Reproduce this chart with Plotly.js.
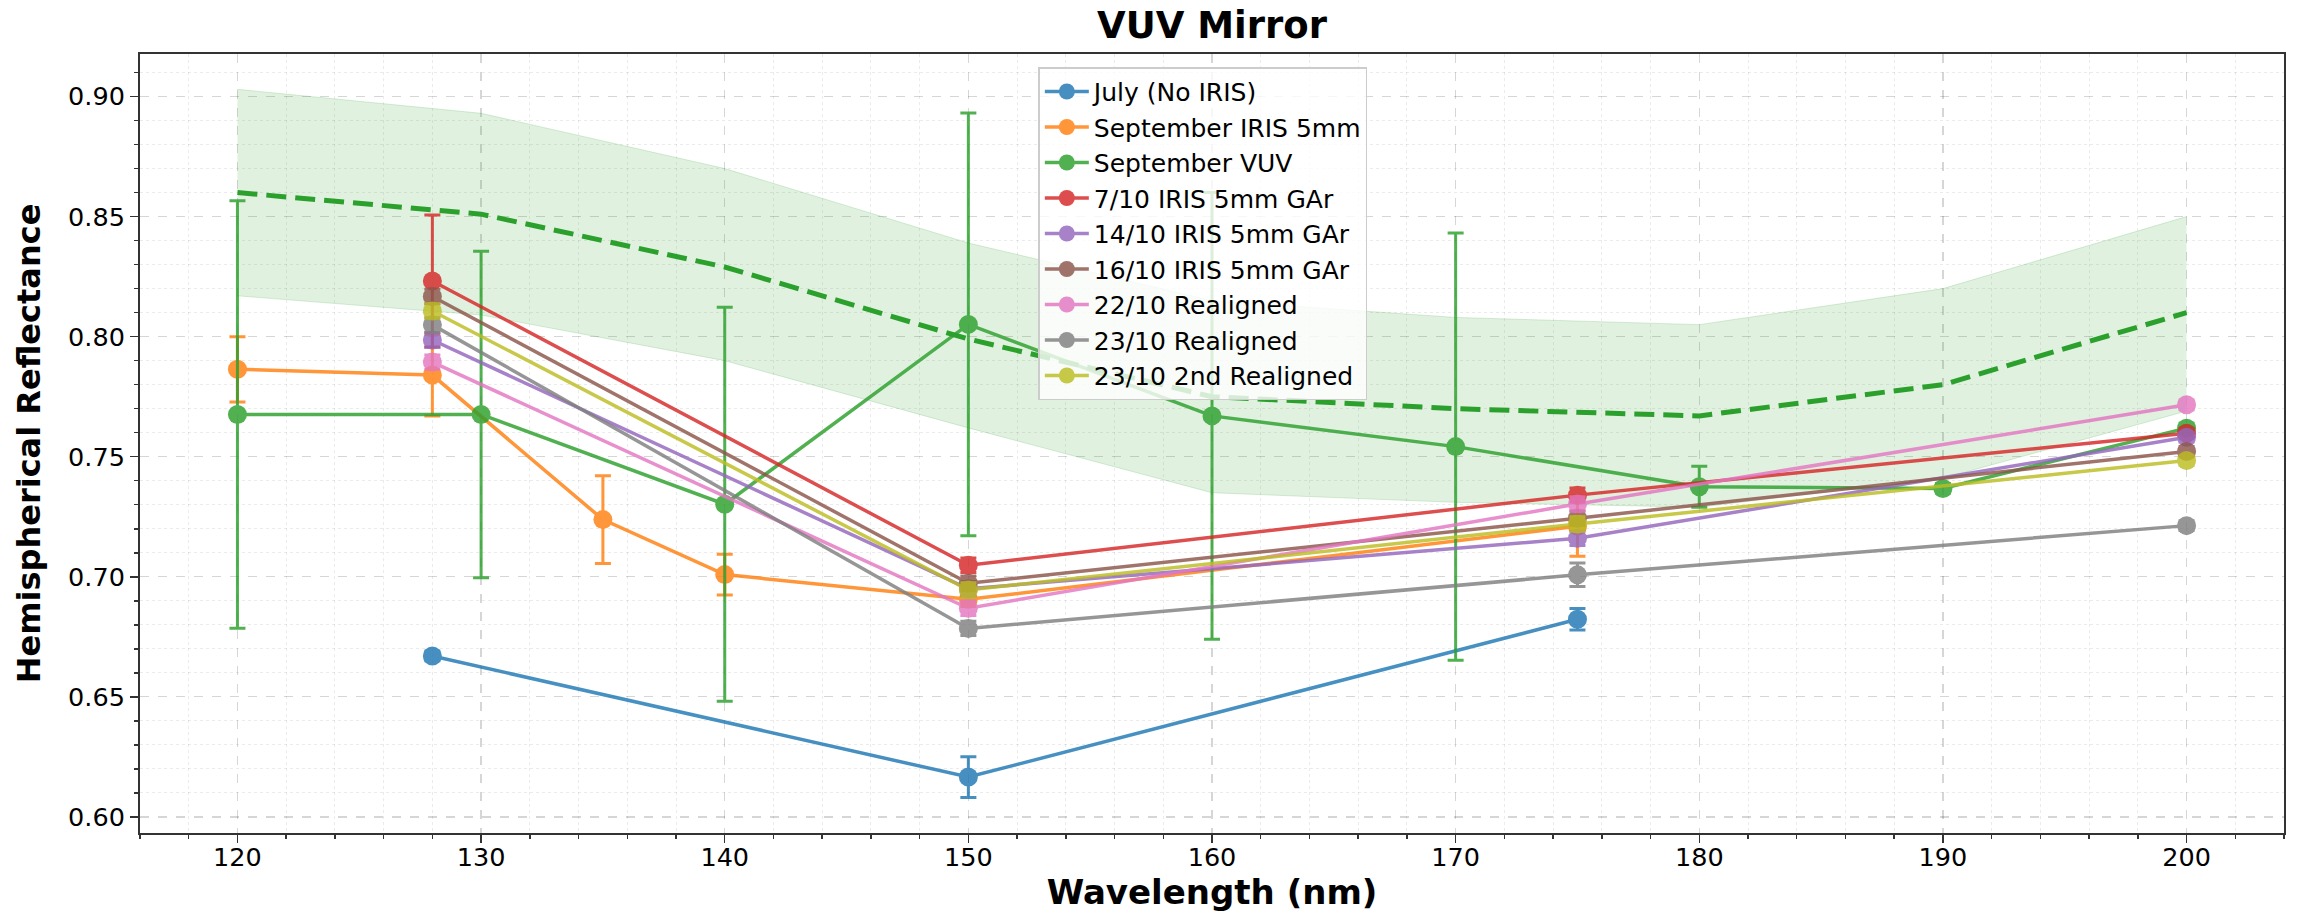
<!DOCTYPE html>
<html>
<head>
<meta charset="utf-8">
<script src="https://cdn.plot.ly/plotly-3.0.1.min.js"></script>
<style>
  html, body { margin: 0; padding: 0; background: #ffffff; }
  #chart { width: 2300px; height: 923px; }
</style>
</head>
<body>
<div id="chart"></div>
<script>
// Hemispherical reflectance of the VUV mirror, per measurement campaign.
const julyX = [128, 150, 175];
const julyY = [0.667, 0.6166, 0.6823];
const julyErr = [0.002, 0.0085, 0.0045];

const sepIrisX = [120, 128, 135, 140, 150, 175];
const sepIrisY = [0.7864, 0.7840, 0.7238, 0.7009, 0.6906, 0.7210];
const sepIrisErr = [0.0136, 0.0170, 0.0183, 0.0085, 0.0030, 0.0125];

const sepVuvX = [120, 130, 140, 150, 160, 170, 180, 190, 200];
const sepVuvY = [0.7676, 0.7676, 0.7302, 0.8051, 0.7670, 0.7542, 0.7375, 0.7368, 0.7619];
const sepVuvErr = [0.089, 0.068, 0.082, 0.088, 0.093, 0.089, 0.0085, 0.002, 0.002];

const octX = [128, 150, 175, 200];
const oct07Y = [0.8232, 0.7048, 0.7340, 0.7598];
const oct07Err = [0.0275, 0.003, 0.003, 0.002];
const oct14Y = [0.7986, 0.6950, 0.7160, 0.7581];
const oct14Err = [0.003, 0.003, 0.003, 0.002];
const oct16Y = [0.8167, 0.6973, 0.7244, 0.7522];
const oct16Err = [0.003, 0.003, 0.003, 0.002];
const oct22Y = [0.7894, 0.6869, 0.7303, 0.7716];
const oct22Err = [0.003, 0.003, 0.003, 0.002];
const oct23Y = [0.8049, 0.6785, 0.7008, 0.7213];
const oct23Err = [0.003, 0.003, 0.0049, 0.002];
const oct23bY = [0.8107, 0.6945, 0.7220, 0.7484];
const oct23bErr = [0.003, 0.003, 0.003, 0.002];

// Reference reflectance: mean curve with its spread band.
const refX = [120, 130, 140, 150, 160, 170, 180, 190, 200];
const refMean = [0.860, 0.851, 0.829, 0.799, 0.775, 0.770, 0.767, 0.780, 0.810];
const refUpper = [0.903, 0.893, 0.870, 0.839, 0.815, 0.808, 0.805, 0.820, 0.850];
const refLower = [0.817, 0.809, 0.790, 0.762, 0.735, 0.731, 0.729, 0.741, 0.769];

const seriesNames = [
  'July (No IRIS)', 'September IRIS 5mm', 'September VUV',
  '7/10 IRIS 5mm GAr', '14/10 IRIS 5mm GAr', '16/10 IRIS 5mm GAr',
  '22/10 Realigned', '23/10 Realigned', '23/10 2nd Realigned'
];
const seriesColors = [
  '#1f77b4', '#ff7f0e', '#2ca02c', '#d62728', '#9467bd',
  '#8c564b', '#e377c2', '#7f7f7f', '#bcbd22'
];
const seriesX = [julyX, sepIrisX, sepVuvX, octX, octX, octX, octX, octX, octX];
const seriesY = [julyY, sepIrisY, sepVuvY, oct07Y, oct14Y, oct16Y, oct22Y, oct23Y, oct23bY];
const seriesErr = [julyErr, sepIrisErr, sepVuvErr, oct07Err, oct14Err, oct16Err, oct22Err, oct23Err, oct23bErr];

const traces = [];

traces.push({
  x: refX, y: refLower, mode: 'lines', type: 'scatter',
  line: { color: 'rgba(44,160,44,0.18)', width: 1 },
  showlegend: false, hoverinfo: 'skip'
});
traces.push({
  x: refX, y: refUpper, mode: 'lines', type: 'scatter',
  fill: 'tonexty', fillcolor: 'rgba(44,160,44,0.15)',
  line: { color: 'rgba(44,160,44,0.18)', width: 1 },
  showlegend: false, hoverinfo: 'skip'
});
traces.push({
  x: refX, y: refMean, mode: 'lines', type: 'scatter',
  line: { color: '#2ca02c', width: 5, dash: '20px,9px' },
  showlegend: false
});

for (let i = 0; i < seriesNames.length; i++) {
  traces.push({
    x: seriesX[i], y: seriesY[i], name: seriesNames[i],
    type: 'scatter', mode: 'lines+markers',
    opacity: 0.82,
    line: { color: seriesColors[i], width: 3.5 },
    marker: { color: seriesColors[i], size: 19 },
    error_y: {
      type: 'data', array: seriesErr[i], visible: true,
      color: seriesColors[i], thickness: 3, width: 8
    }
  });
}

const axisCommon = {
  ticks: 'outside', ticklen: 8, tickwidth: 1.5, tickcolor: '#333',
  showline: true, linecolor: '#333', linewidth: 2, mirror: true,
  showgrid: true, gridcolor: 'rgba(0,0,0,0.16)', griddash: 'dash', gridwidth: 1.3,
  zeroline: false,
  tickfont: { family: 'DejaVu Sans', size: 25.5, color: '#000' }
};

const layout = {
  width: 2300, height: 923,
  margin: { l: 140, r: 16, t: 54, b: 90 },
  paper_bgcolor: '#ffffff', plot_bgcolor: '#ffffff',
  font: { family: 'DejaVu Sans', color: '#000' },
  title: {
    text: '<b>VUV Mirror</b>',
    font: { family: 'DejaVu Sans', size: 37, color: '#000' },
    x: 0.5, xref: 'paper', xanchor: 'center',
    y: 0.973, yref: 'container', yanchor: 'middle'
  },
  xaxis: Object.assign({}, axisCommon, {
    range: [116, 204], tick0: 0, dtick: 10,
    ticklabelstandoff: -8,
    minor: { dtick: 2, ticks: 'outside', ticklen: 4, tickcolor: '#333',
             showgrid: true, gridcolor: 'rgba(0,0,0,0.08)', griddash: 'dot', gridwidth: 1 },
    title: { text: '<b>Wavelength (nm)</b>', font: { family: 'DejaVu Sans', size: 34, color: '#000' }, standoff: 8 }
  }),
  yaxis: Object.assign({}, axisCommon, {
    range: [0.5933, 0.9177], tick0: 0, dtick: 0.05, tickformat: '.2f',
    minor: { dtick: 0.01, ticks: 'outside', ticklen: 4, tickcolor: '#333',
             showgrid: true, gridcolor: 'rgba(0,0,0,0.08)', griddash: 'dot', gridwidth: 1 },
    title: { text: '<b>Hemispherical Reflectance</b>', font: { family: 'DejaVu Sans', size: 32, color: '#000' }, standoff: 18 }
  }),
  legend: {
    x: 0.419, y: 0.983, xanchor: 'left', yanchor: 'top',
    traceorder: 'normal',
    bgcolor: 'rgba(255,255,255,0.8)', bordercolor: '#cccccc', borderwidth: 1.5,
    font: { family: 'DejaVu Sans', size: 25, color: '#000' },
    itemwidth: 44
  }
};

Plotly.newPlot('chart', traces, layout, { displayModeBar: false, staticPlot: true });
</script>
</body>
</html>
